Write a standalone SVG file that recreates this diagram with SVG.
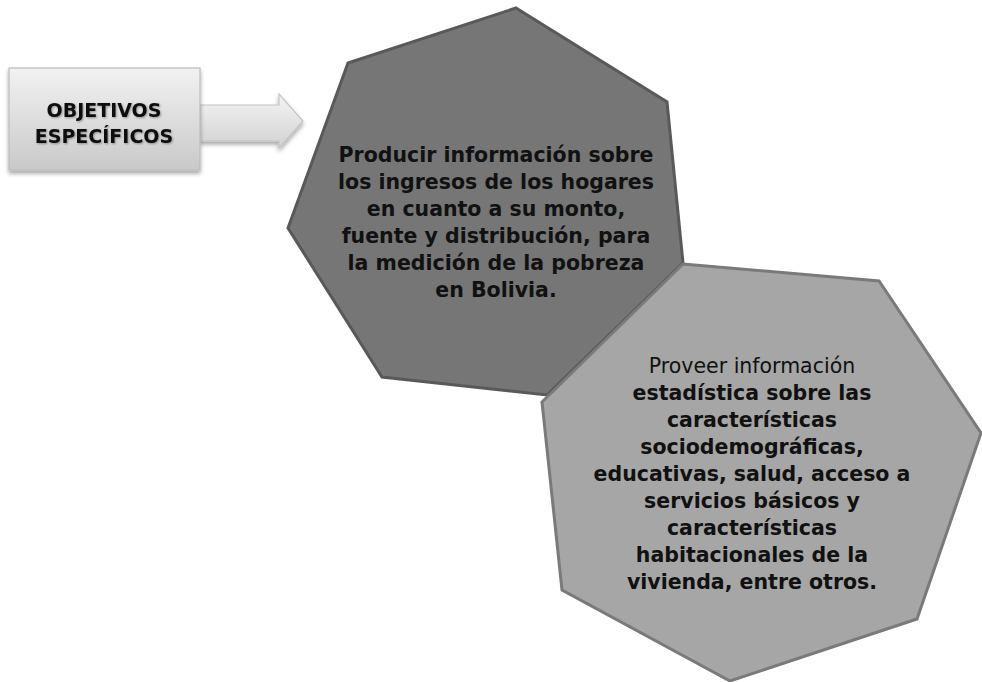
<svg xmlns="http://www.w3.org/2000/svg" width="982" height="682" viewBox="0 0 982 682">
<defs>
<linearGradient id="gBox" x1="0" y1="0" x2="0" y2="1">
<stop offset="0" stop-color="#f2f2f2"/>
<stop offset="1" stop-color="#c9c9c9"/>
</linearGradient>
<linearGradient id="gArrow" x1="0" y1="0" x2="0" y2="1">
<stop offset="0" stop-color="#f4f4f4"/>
<stop offset="1" stop-color="#d2d2d2"/>
</linearGradient>
<filter id="sh" x="-10%" y="-10%" width="130%" height="140%">
<feGaussianBlur in="SourceAlpha" stdDeviation="2"/>
<feOffset dx="0" dy="3"/>
<feComponentTransfer><feFuncA type="linear" slope="0.35"/></feComponentTransfer>
<feMerge><feMergeNode/><feMergeNode in="SourceGraphic"/></feMerge>
</filter>
<filter id="tsh" x="-10%" y="-30%" width="130%" height="160%">
<feGaussianBlur in="SourceAlpha" stdDeviation="1"/>
<feOffset dx="1" dy="1"/>
<feComponentTransfer><feFuncA type="linear" slope="0.35"/></feComponentTransfer>
<feMerge><feMergeNode/><feMergeNode in="SourceGraphic"/></feMerge>
</filter>
</defs>
<style>
text { font-family: "DejaVu Sans", Verdana, sans-serif; text-anchor: middle; fill: #111; }
.b { font-weight: bold; }
.h1 { fill: #767676; stroke: #595959; stroke-width: 3; stroke-linejoin: miter; }
.h2 { fill: #a6a6a6; stroke: #7a7a7a; stroke-width: 3; stroke-linejoin: miter; }
.t18 { font-size: 20.5px; }
.t16 { font-size: 19px; }
</style>
<rect width="982" height="682" fill="#ffffff"/>
<g id="connectors">
<path d="M200,105 L279,105 L279,94 L303,121 L279,148 L279,141 L200,141 Z" fill="url(#gArrow)" stroke="#c4c4c4" stroke-width="1.2" filter="url(#sh)"/>
</g>
<g id="box">
<rect x="9" y="68" width="191" height="102" fill="url(#gBox)" stroke="#bdbdbd" stroke-width="1.2" filter="url(#sh)"/>
<text class="b t16" x="104" y="117" filter="url(#tsh)">OBJETIVOS</text>
<text class="b t16" x="104" y="143" filter="url(#tsh)">ESPECÍFICOS</text>
</g>
<g id="hept1">
<polygon class="h1" points="516,8 667,102 683,263 547,395 382,377 288,228 348,63"/>
<text class="b t18" x="496" y="162">Producir información sobre</text>
<text class="b t18" x="496" y="189">los ingresos de los hogares</text>
<text class="b t18" x="496" y="216">en cuanto a su monto,</text>
<text class="b t18" x="496" y="243">fuente y distribución, para</text>
<text class="b t18" x="496" y="270">la medición de la pobreza</text>
<text class="b t18" x="496" y="297">en Bolivia.</text>
</g>
<g id="hept2">
<polygon class="h2" points="683,264 879,281 981,433 917,619 730,681 562,590 542,402"/>
<text class="t18" x="752" y="373">Proveer información</text>
<text class="b t18" x="752" y="400">estadística sobre las</text>
<text class="b t18" x="752" y="427">características</text>
<text class="b t18" x="752" y="454">sociodemográficas,</text>
<text class="b t18" x="752" y="481">educativas, salud, acceso a</text>
<text class="b t18" x="752" y="508">servicios básicos y</text>
<text class="b t18" x="752" y="535">características</text>
<text class="b t18" x="752" y="562">habitacionales de la</text>
<text class="b t18" x="752" y="589">vivienda, entre otros.</text>
</g>
</svg>
